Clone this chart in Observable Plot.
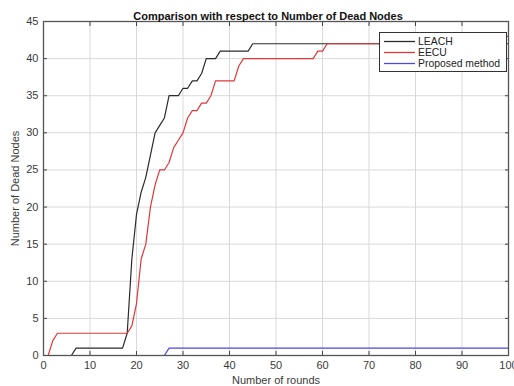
<!DOCTYPE html>
<html><head><meta charset="utf-8">
<script src="https://cdn.jsdelivr.net/npm/d3@7"></script>
<script src="https://cdn.jsdelivr.net/npm/@observablehq/plot@0.6"></script>
<style>
body{margin:0;background:#fff;}
#wrap{position:relative;width:514px;height:386px;font-family:"Liberation Sans",Arial,sans-serif;}
#legend{position:absolute;left:379px;top:32px;width:128px;height:40px;border:1px solid #333;background:#fff;box-sizing:border-box;font-size:10.4px;color:#222;}
.row{position:absolute;left:0;height:11px;line-height:11px;}
.row svg{position:absolute;left:3px;top:0;}
.row span.tx{position:absolute;left:38px;top:0;white-space:nowrap;}
</style>
</head><body><div id="wrap"></div>
<script>
const seriesNames = ["LEACH", "EECU", "Proposed method"];
const seriesColors = ["#2b2b2b", "#e0383a", "#4a4adf"];
const leachX = [0,6,7,17,18,19,20,21,22,23,24,25,26,27,29,30,31,32,33,34,35,37,38,44,45,100];
const leachY = [0,0,1,1,3,13,19,22,24,27,30,31,32,35,35,36,36,37,37,38,40,40,41,41,42,42];
const eecuX = [0,1,2,3,18,19,20,21,22,23,24,25,26,27,28,29,30,31,32,33,34,35,36,37,41,42,43,58,59,60,61,98,99,100];
const eecuY = [0,0,2,3,3,4,7,13,15,20,23,25,25,26,28,29,30,32,33,33,34,34,35,37,37,39,40,40,41,41,42,42,43,43];
const propX = [0,26,27,100];
const propY = [0,0,1,1];
const xTicks = [0,10,20,30,40,50,60,70,80,90,100];
const yTicks = [0,5,10,15,20,25,30,35,40,45];
const titleText = "Comparison with respect to Number of Dead Nodes";
const xLabel = "Number of rounds";
const yLabel = "Number of Dead Nodes";

const rows = [];
[[leachX,leachY],[eecuX,eecuY],[propX,propY]].forEach(([xs,ys],i)=>{
  xs.forEach((x,j)=>rows.push({series:seriesNames[i], x, y:ys[j]}));
});

const font = "'Liberation Sans', Arial, sans-serif";
const chart = Plot.plot({
  width: 514, height: 386,
  marginLeft: 43, marginRight: 6, marginTop: 21, marginBottom: 31,
  style: {fontFamily: font, fontSize: "11px", color: "#3a3a3a", background: "#fff"},
  x: {domain: [0,100]},
  y: {domain: [0,45]},
  color: {domain: seriesNames, range: seriesColors},
  marks: [
    Plot.gridX(xTicks, {stroke: "#d9d9d9", strokeOpacity: 1}),
    Plot.gridY(yTicks, {stroke: "#d9d9d9", strokeOpacity: 1}),
    Plot.axisX({anchor: "bottom", ticks: xTicks, tickSize: -4, tickPadding: 10, stroke: "#444", label: xLabel, labelAnchor: "center", labelArrow: "none", labelOffset: 28, fill: "#3a3a3a"}),
    Plot.axisX({anchor: "top", ticks: xTicks, tickSize: -4, tickFormat: () => "", label: null, stroke: "#444"}),
    Plot.axisY({anchor: "left", ticks: yTicks, tickSize: -4, tickPadding: 9, stroke: "#444", label: yLabel, labelAnchor: "center", labelArrow: "none", labelOffset: 32, fill: "#3a3a3a"}),
    Plot.axisY({anchor: "right", ticks: yTicks, tickSize: -4, tickFormat: () => "", label: null, stroke: "#444"}),
    Plot.line(rows, {x: "x", y: "y", z: "series", stroke: "series", strokeWidth: 1.2, curve: "linear"}),
    Plot.frame({stroke: "#555", strokeWidth: 1.3}),
    Plot.text([titleText], {frameAnchor: "top", dy: -9, dx: -8, text: d => d, fontWeight: "bold", fontSize: 11, fill: "#111"})
  ]
});
const wrap = document.getElementById("wrap");
wrap.appendChild(chart);

const legend = document.createElement("div");
legend.id = "legend";
seriesNames.forEach((n,i)=>{
  const r = document.createElement("div");
  r.className = "row";
  r.style.top = (3 + i*11) + "px";
  r.innerHTML = `<svg width="33" height="11"><line x1="1" x2="32" y1="5.5" y2="5.5" stroke="${seriesColors[i]}" stroke-width="1.3"/></svg><span class="tx">${n}</span>`;
  legend.appendChild(r);
});
wrap.appendChild(legend);
</script>
</body></html>
